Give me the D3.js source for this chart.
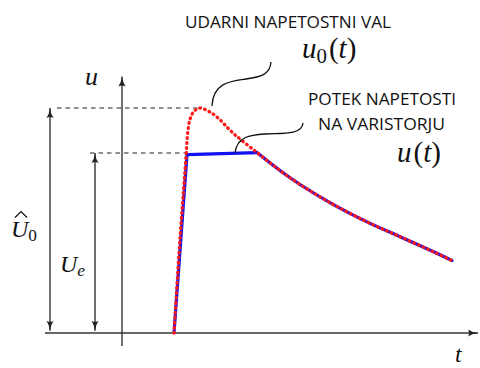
<!DOCTYPE html>
<html>
<head>
<meta charset="utf-8">
<script src="https://cdn.jsdelivr.net/npm/d3@7"></script>
<style>
  html, body { margin: 0; padding: 0; background: #fff; }
  svg { display: block; }
  .sans { font-family: "Open Sans", "Noto Sans", sans-serif; fill: #111; }
  .math { font-family: "Liberation Serif", "DejaVu Serif", serif; fill: #111; }
</style>
</head>
<body>
<svg id="chart" width="480" height="368"></svg>
<script>
// Surge voltage u0(t) (time, per-unit voltage) – rise, crest, early tail
const surgeRise = [[0, 0], [0.6, 0.42], [1.2, 0.78], [1.35, 0.88], [1.6, 0.95], [2.0, 0.985], [2.6, 1.0], [3.4, 0.987], [4.3, 0.96], [5.9, 0.889]];
// Common tail once the varistor stops clamping
const tail = [[8.3, 0.802], [10.6, 0.722], [12.6, 0.66], [15.9, 0.572], [19.3, 0.494], [22.6, 0.428], [25.9, 0.362], [27.8, 0.322]];
// Voltage across the varistor u(t): rise then clamped plateau
const clamped = [[0, 0], [1.3, 0.793], [8.3, 0.802]];

// Reference levels
const levelPeak = 1.0;   // Û0
const levelClamp = 0.8;  // Ue
const timeAxisT = -5.2;  // position of the u axis on the time scale
const timeArrowPeak = -12.4;
const timeArrowClamp = -7.9;

const svg = d3.select("#chart");
const x = d3.scaleLinear().domain([-12.9, 30.5]).range([45, 479]);
const y = d3.scaleLinear().domain([0, 1]).range([333, 108]);

// Arrowheads (LaTeX-style)
const defs = svg.append("defs");
defs.append("marker")
  .attr("id", "arr").attr("viewBox", "0 0 10 8").attr("refX", 10).attr("refY", 4)
  .attr("markerWidth", 10).attr("markerHeight", 8).attr("markerUnits", "userSpaceOnUse")
  .attr("orient", "auto-start-reverse")
  .append("path").attr("d", "M0,0.4 Q4,3.3 10,4 Q4,4.7 0,7.6 Q2.2,4 0,0.4 Z").attr("fill", "#222");

const axisColor = "#333";
// time axis
svg.append("line").attr("x1", x(-12.9)).attr("x2", x(30.4)).attr("y1", y(0)).attr("y2", y(0))
  .attr("stroke", axisColor).attr("stroke-width", 1.4).attr("marker-end", "url(#arr)");
// voltage axis
svg.append("line").attr("x1", x(timeAxisT)).attr("x2", x(timeAxisT)).attr("y1", y(-0.058)).attr("y2", y(1.14))
  .attr("stroke", axisColor).attr("stroke-width", 1.4).attr("marker-end", "url(#arr)");

// dashed reference levels
svg.append("line").attr("x1", x(-11.7)).attr("x2", x(2.6)).attr("y1", y(levelPeak)).attr("y2", y(levelPeak))
  .attr("stroke", "#222").attr("stroke-width", 1.1).attr("stroke-dasharray", "4.5,4");
svg.append("line").attr("x1", x(-8.4)).attr("x2", x(1.2)).attr("y1", y(levelClamp)).attr("y2", y(levelClamp))
  .attr("stroke", "#222").attr("stroke-width", 1.1).attr("stroke-dasharray", "4.5,4");

// double-headed level arrows
[[timeArrowPeak, levelPeak], [timeArrowClamp, levelClamp]].forEach(([t, v]) => {
  svg.append("line").attr("x1", x(t)).attr("x2", x(t)).attr("y1", y(0.01)).attr("y2", y(v))
    .attr("stroke", "#222").attr("stroke-width", 1.3)
    .attr("marker-start", "url(#arr)").attr("marker-end", "url(#arr)");
});

const line = d3.line().x(d => x(d[0])).y(d => y(d[1]));
const smooth = d3.line().x(d => x(d[0])).y(d => y(d[1])).curve(d3.curveCatmullRom.alpha(0.5));

// varistor voltage (blue)
svg.append("path").attr("d", line(clamped)).attr("fill", "none")
  .attr("stroke", "#1010f0").attr("stroke-width", 3.2).attr("stroke-linejoin", "round");
svg.append("path").attr("d", smooth(tail)).attr("fill", "none")
  .attr("stroke", "#1010f0").attr("stroke-width", 3.2).attr("stroke-linecap", "round");

// surge voltage (red dotted)
svg.append("path").attr("d", smooth(surgeRise.concat(tail))).attr("fill", "none")
  .attr("stroke", "#ff1a1a").attr("stroke-width", 3.3).attr("stroke-linecap", "round")
  .attr("stroke-dasharray", "0.8,4.2");

// leader curves from labels to the curves
const peakPt = [x(3.8), y(1.0) - 2];
svg.append("path")
  .attr("d", `M${peakPt[0]},${peakPt[1]} C${peakPt[0] + 1},${peakPt[1] - 24} ${peakPt[0] + 20},${peakPt[1] - 25} ${peakPt[0] + 34},${peakPt[1] - 27} S${peakPt[0] + 58},${peakPt[1] - 31} ${peakPt[0] + 59},${peakPt[1] - 44}`)
  .attr("fill", "none").attr("stroke", "#111").attr("stroke-width", 1.3);
const platPt = [x(6.1), y(levelClamp)];
svg.append("path")
  .attr("d", `M${platPt[0]},${platPt[1]} C${platPt[0] + 2},${platPt[1] - 17} ${platPt[0] + 16},${platPt[1] - 18} ${platPt[0] + 30},${platPt[1] - 19} S${platPt[0] + 67},${platPt[1] - 17} ${platPt[0] + 68},${platPt[1] - 30}`)
  .attr("fill", "none").attr("stroke", "#111").attr("stroke-width", 1.3);

// text labels
function sans(px, py, width, str) {
  svg.append("text").attr("class", "sans").attr("x", px).attr("y", py).attr("font-size", 16)
    .attr("textLength", width).attr("lengthAdjust", "spacingAndGlyphs").text(str);
}
sans(185, 28, 206, "UDARNI NAPETOSTNI VAL");
sans(308, 105, 148, "POTEK NAPETOSTI");
sans(318, 130, 127, "NA VARISTORJU");

function mathLabel(px, py, size, parts) {
  const t = svg.append("text").attr("class", "math").attr("x", px).attr("y", py).attr("font-size", size);
  parts.forEach(p => {
    const s = t.append("tspan").text(p.s);
    if (p.i) s.attr("font-style", "italic");
    if (p.sub) s.attr("font-size", size * 0.72).attr("dy", size * 0.18);
    if (p.up) s.attr("dy", -size * 0.18);
    if (p.dx) s.attr("dx", p.dx);
  });
  return t;
}
mathLabel(302, 58, 29, [{ s: "u", i: 1 }, { s: "0", sub: 1 }, { s: "(", up: 1, dx: 2 }, { s: "t", i: 1 }, { s: ")" }]);
mathLabel(397, 162, 29, [{ s: "u", i: 1 }, { s: "(", dx: 2 }, { s: "t", i: 1 }, { s: ")" }]);
mathLabel(85, 85, 26, [{ s: "u", i: 1 }]);
mathLabel(455, 362, 24, [{ s: "t", i: 1 }]);
// Û0 with a hat accent
mathLabel(11, 237, 24, [{ s: "U", i: 1 }, { s: "0", sub: 1 }]);
svg.append("path").attr("d", "M15,217.5 L21,211.5 L27,217.5").attr("fill", "none")
  .attr("stroke", "#111").attr("stroke-width", 1.2);
mathLabel(60, 272, 24, [{ s: "U", i: 1 }, { s: "e", i: 1, sub: 1 }]);
</script>
</body>
</html>
